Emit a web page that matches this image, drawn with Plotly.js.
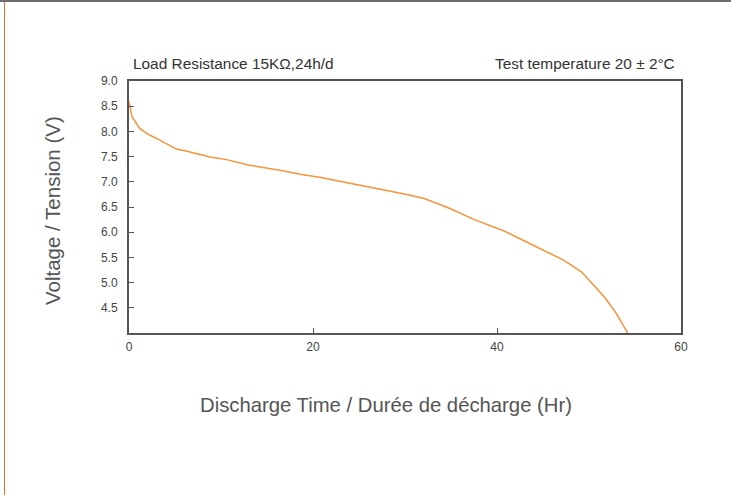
<!DOCTYPE html>
<html><head><meta charset="utf-8">
<script src="https://cdn.plot.ly/plotly-3.0.1.min.js"></script>
<style>
html,body{margin:0;padding:0;background:#fff;}
#wrap{position:relative;width:731px;height:495px;overflow:hidden;}
#chart{position:absolute;left:0;top:0;width:731px;height:495px;}
#topline{position:absolute;left:0;top:0;width:731px;height:2px;background:#6e6e6e;}
#leftline{position:absolute;left:4px;top:2px;width:1px;height:493px;background:#f26d2d;}
</style></head>
<body><div id="wrap"><div id="chart"></div><div id="topline"></div><div id="leftline"></div></div>
<script>
const hours = [0, 0.33, 1.16, 2.0, 3.0, 4.0, 5.15, 6.2, 7.3, 8.8, 10.6, 13.1, 16.7, 18.6, 20.7, 22.9, 25.4, 28.3, 30.2, 32.1, 34.9, 37.4, 40.7, 43.6, 47.2, 49.2, 51.7, 53.0, 54.2];
const volts = [8.59, 8.29, 8.06, 7.95, 7.86, 7.76, 7.65, 7.61, 7.56, 7.49, 7.44, 7.33, 7.22, 7.15, 7.09, 7.01, 6.93, 6.82, 6.75, 6.67, 6.47, 6.26, 6.03, 5.77, 5.45, 5.21, 4.71, 4.38, 4.0];
const xTicks = [0, 20, 40, 60];
const yTicks = [4.5, 5.0, 5.5, 6.0, 6.5, 7.0, 7.5, 8.0, 8.5, 9.0];
const noteLeft = "Load Resistance 15KΩ,24h/d";
const noteRight = "Test temperature 20 ± 2°C";
const xTitle = "Discharge Time / Durée de décharge (Hr)";
const yTitle = "Voltage / Tension (V)";

const font = "Liberation Sans, Arial, sans-serif";
const trace = {x: hours, y: volts, type: 'scatter', mode: 'lines',
  line: {color: '#f7923a', width: 1.5}, hoverinfo: 'skip'};
const axisCommon = {showgrid: false, zeroline: false, showline: true, mirror: true,
  linecolor: '#555', linewidth: 2, ticks: 'inside', ticklen: 5, tickcolor: '#555', tickwidth: 1,
  tickfont: {family: font, size: 12, color: '#444'}};
const layout = {
  width: 731, height: 495,
  margin: {l: 129, r: 50, t: 81, b: 162, pad: 0},
  paper_bgcolor: '#fff', plot_bgcolor: '#fff', showlegend: false,
  xaxis: Object.assign({}, axisCommon, {range: [0, 60], tickvals: xTicks, ticktext: xTicks.map(String), ticklabelstandoff: 2}),
  yaxis: Object.assign({}, axisCommon, {range: [4, 9], tickvals: yTicks, ticktext: yTicks.map(v => v.toFixed(1)), ticklabelstandoff: 7}),
  annotations: [
    {text: noteLeft, xref: 'paper', yref: 'paper', x: 0, y: 1, xanchor: 'left', yanchor: 'middle',
     xshift: 2, yshift: 18, showarrow: false, font: {family: font, size: 15.4, color: '#333'}},
    {text: noteRight, xref: 'paper', yref: 'paper', x: 1, y: 1, xanchor: 'right', yanchor: 'middle',
     xshift: -4, yshift: 18, showarrow: false, font: {family: font, size: 15.4, color: '#333'}},
    {text: xTitle, xref: 'paper', yref: 'paper', x: 0, y: 0, xanchor: 'center', yanchor: 'middle',
     xshift: 257, yshift: -72, showarrow: false, font: {family: font, size: 20.3, color: '#555'}},
    {text: yTitle, xref: 'paper', yref: 'paper', x: 0, y: 0.5, xanchor: 'center', yanchor: 'middle', textangle: -90,
     xshift: -77, yshift: -4, showarrow: false, font: {family: font, size: 20.5, color: '#555'}}
  ]
};
Plotly.newPlot('chart', [trace], layout, {displayModeBar: false, staticPlot: true});
</script></body></html>
